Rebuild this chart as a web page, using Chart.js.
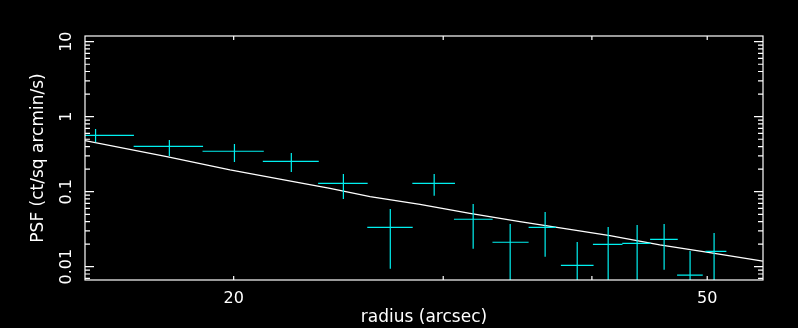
<!DOCTYPE html>
<html>
<head>
<meta charset="utf-8">
<script src="https://cdn.jsdelivr.net/npm/chart.js@4"></script>
<style>
    body { margin: 0; background: #000; }
    canvas { display: block; }
</style>
</head>
<body>
<canvas id="grafico" width="798" height="328"></canvas>
<script>
// data points (radius in arcsec, bin edges, PSF and error range)
const radius   = [15.31, 17.66, 20.03, 22.36, 24.73, 27.08, 29.48, 31.79, 34.15, 36.54, 38.88, 41.28, 43.66, 46.00, 48.37, 50.67];
const radiusLo = [14.13, 16.48, 18.83, 21.16, 23.55, 25.90, 28.26, 30.63, 33.00, 35.39, 37.67, 40.08, 42.42, 44.77, 47.17, 49.83];
const radiusHi = [16.49, 18.85, 21.20, 23.58, 25.92, 28.28, 30.69, 33.01, 35.39, 37.31, 40.13, 42.44, 44.81, 47.23, 49.57, 51.89];
const psf   = [0.565, 0.403, 0.346, 0.254, 0.129, 0.0335, 0.129, 0.0429, 0.0212, 0.0335, 0.0104, 0.0199, 0.0205, 0.0232, 0.0077, 0.0160];
const psfLo = [0.456, 0.299, 0.249, 0.183, 0.080, 0.0094, 0.0885, 0.0174, 0.004, 0.0136, 0.004, 0.004, 0.004, 0.0091, 0.004, 0.004];
const psfHi = [0.685, 0.489, 0.433, 0.328, 0.172, 0.0588, 0.172, 0.0686, 0.0371, 0.0536, 0.0214, 0.0338, 0.036, 0.0371, 0.0162, 0.0281];

// model curve
const modelR   = [15.0, 17.57, 19.86, 22.45, 24.10, 26.04, 28.68, 31.59, 34.80, 38.33, 41.42, 45.62, 50.25, 55.68];
const modelPsf = [0.479, 0.293, 0.195, 0.136, 0.111, 0.0858, 0.0679, 0.0515, 0.0398, 0.0315, 0.0259, 0.0195, 0.0154, 0.0119];

// tick labels
const xLabels = [20, 50];
const yLabels = ['0.01', '0.1', '1', '10'];

const fonte = '16px "DejaVu Sans"';
const cyan = 'rgb(0,240,240)';

function minorTicks(min, max) {
    let out = [];
    for (let d = Math.floor(Math.log10(min)); d <= Math.ceil(Math.log10(max)); d++) {
        for (let m = 1; m <= 9; m++) {
            let v = m * Math.pow(10, d);
            if (v >= min && v <= max) out.push({ v: v, major: m === 1 });
        }
    }
    return out;
}

const molduraPlugin = {
    id: 'moldura',
    afterDatasetsDraw(chart) {
        const ctx = chart.ctx;
        const a = chart.chartArea;
        const x = chart.scales.x, y = chart.scales.y;
        ctx.save();
        ctx.beginPath();
        ctx.rect(a.left, a.top, a.right - a.left, a.bottom - a.top);
        ctx.clip();
        ctx.strokeStyle = cyan;
        ctx.lineWidth = 1.2;
        radius.forEach((r, i) => {
            let px = x.getPixelForValue(r);
            let py = y.getPixelForValue(psf[i]);
            ctx.beginPath();
            ctx.moveTo(x.getPixelForValue(radiusLo[i]), py);
            ctx.lineTo(x.getPixelForValue(radiusHi[i]), py);
            ctx.moveTo(px, y.getPixelForValue(psfLo[i]));
            ctx.lineTo(px, y.getPixelForValue(psfHi[i]));
            ctx.stroke();
        });
        ctx.restore();
    },
    afterDraw(chart) {
        const ctx = chart.ctx;
        const a = chart.chartArea;
        const x = chart.scales.x, y = chart.scales.y;
        ctx.save();
        ctx.strokeStyle = '#fff';
        ctx.lineWidth = 1.2;
        ctx.strokeRect(a.left, a.top, a.right - a.left, a.bottom - a.top);

        ctx.beginPath();
        minorTicks(y.min, y.max).forEach(t => {
            let py = y.getPixelForValue(t.v);
            let len = t.major ? 9 : 5;
            ctx.moveTo(a.left, py); ctx.lineTo(a.left + len, py);
            ctx.moveTo(a.right, py); ctx.lineTo(a.right - len, py);
        });
        [20, 30, 40, 50].forEach(v => {
            let px = x.getPixelForValue(v);
            ctx.moveTo(px, a.bottom); ctx.lineTo(px, a.bottom - 4);
            ctx.moveTo(px, a.top); ctx.lineTo(px, a.top + 4);
        });
        ctx.stroke();

        ctx.fillStyle = '#fff';
        ctx.font = fonte;
        ctx.textAlign = 'center';
        ctx.textBaseline = 'middle';
        xLabels.forEach(v => {
            ctx.fillText(String(v), x.getPixelForValue(v), a.bottom + 19);
        });
        yLabels.forEach(l => {
            ctx.save();
            ctx.translate(a.left - 18, y.getPixelForValue(parseFloat(l)));
            ctx.rotate(-Math.PI / 2);
            ctx.fillText(l, 0, 0);
            ctx.restore();
        });
        ctx.restore();
    }
};

let ctx = document.getElementById('grafico').getContext('2d');
new Chart(ctx, {
    type: 'scatter',
    data: {
        datasets: [{
            label: 'modelo',
            data: modelR.map((r, i) => ({ x: r, y: modelPsf[i] })),
            showLine: true,
            borderColor: '#fff',
            borderWidth: 1.2,
            pointRadius: 0,
            fill: false
        }, {
            label: 'dados',
            data: radius.map((r, i) => ({ x: r, y: psf[i] })),
            pointRadius: 0,
            borderColor: cyan
        }]
    },
    options: {
        responsive: false,
        animation: false,
        events: [],
        layout: { padding: { top: 36, right: 35, left: 0, bottom: 0 } },
        plugins: { legend: { display: false }, tooltip: { enabled: false } },
        scales: {
            x: {
                type: 'logarithmic',
                min: 15,
                max: 55.7,
                grid: { display: false },
                border: { display: false },
                ticks: { display: false },
                afterFit: s => { s.height = 48; },
                title: {
                    display: true,
                    text: 'radius (arcsec)',
                    color: '#fff',
                    font: { family: 'DejaVu Sans', size: 17 },
                    padding: { top: 0, bottom: 0 }
                }
            },
            y: {
                type: 'logarithmic',
                min: 0.00665,
                max: 11.9,
                grid: { display: false },
                border: { display: false },
                ticks: { display: false },
                afterFit: s => { s.width = 85; },
                title: {
                    display: true,
                    text: 'PSF (ct/sq arcmin/s)',
                    color: '#fff',
                    font: { family: 'DejaVu Sans', size: 17 },
                    padding: { top: 28, bottom: 0 }
                }
            }
        }
    },
    plugins: [molduraPlugin]
});
</script>
</body>
</html>
